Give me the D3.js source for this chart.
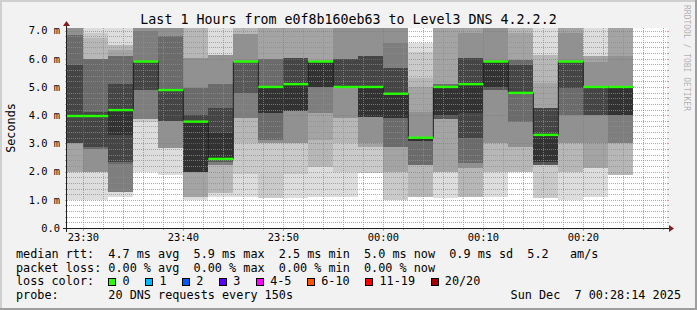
<!DOCTYPE html>
<html>
<head>
<meta charset="utf-8">
<script src="https://cdn.jsdelivr.net/npm/d3@7/dist/d3.min.js"></script>
<style>
  html, body { margin: 0; padding: 0; background: #f2f2f2; }
  svg { display: block; }
  text { font-family: "DejaVu Sans Mono", monospace; fill: #000; white-space: pre; }
</style>
</head>
<body>
<svg width="697" height="310"></svg>
<script>
// end of each 150s step (rrd timestamps)
const stepEnds = ["23:30:00", "23:32:30", "23:35:00", "23:37:30", "23:40:00", "23:42:30",
  "23:45:00", "23:47:30", "23:50:00", "23:52:30", "23:55:00", "23:57:30", "00:00:00",
  "00:02:30", "00:05:00", "00:07:30", "00:10:00", "00:12:30", "00:15:00", "00:17:30",
  "00:20:00", "00:22:30", "00:25:00"];

// median rtt per step, ms
const medians = [3.97, 3.97, 4.18, 5.9, 4.89, 3.77, 2.45, 5.9, 5.0, 5.1, 5.9, 5.0,
  5.0, 4.76, 3.2, 5.0, 5.1, 5.9, 4.79, 3.3, 5.9, 5.0, 5.0];

// 20 sorted pings per step, ms (smoke)
const pings = [
  [1.0, 2.0, 2.0, 2.0, 3.0, 3.0, 3.0, 3.0, 3.0, 3.97, 3.97, 5.78, 5.78, 6.84, 6.84, 7.2, 7.2, 7.2, 7.2, 7.2],
  [1.0, 2.0, 2.0, 2.0, 2.0, 2.8, 2.8, 2.88, 2.88, 3.97, 3.97, 4.1, 4.1, 6.0, 6.0, 6.0, 6.0, 6.72, 6.9, 7.2],
  [1.11, 1.29, 1.29, 1.29, 1.29, 1.29, 2.26, 2.35, 2.35, 3.3, 4.18, 5.09, 5.09, 6.08, 6.08, 6.08, 6.3, 6.49, 6.49, 7.2],
  [2.0, 3.77, 3.85, 3.85, 3.85, 3.85, 4.89, 4.89, 4.89, 5.9, 5.9, 5.9, 5.9, 5.9, 6.98, 7.2, 7.2, 7.2, 7.2, 7.2],
  [1.88, 2.82, 2.82, 2.82, 2.82, 3.79, 3.79, 3.79, 3.79, 4.89, 4.89, 4.89, 4.89, 6.81, 6.81, 7.2, 7.2, 7.2, 7.2, 7.2],
  [0.99, 1.11, 1.11, 1.11, 2.0, 2.0, 2.0, 2.0, 2.0, 2.0, 3.77, 4.0, 4.0, 4.95, 4.95, 6.02, 6.02, 7.2, 7.2, 7.2],
  [1.11, 1.23, 1.23, 2.23, 2.23, 2.23, 2.35, 2.35, 2.45, 2.45, 3.36, 4.24, 4.24, 5.09, 5.09, 6.13, 6.13, 6.13, 6.13, 7.2],
  [1.11, 1.93, 3.0, 3.89, 3.89, 3.89, 4.77, 4.77, 5.9, 5.9, 5.9, 5.9, 5.9, 5.9, 5.9, 6.88, 6.88, 7.2, 7.2, 7.2],
  [1.05, 1.05, 3.0, 3.0, 3.0, 3.12, 3.12, 4.07, 4.07, 4.07, 5.0, 5.0, 5.0, 5.99, 5.99, 5.99, 7.2, 7.2, 7.2, 7.2],
  [1.05, 1.93, 3.0, 3.0, 3.0, 4.13, 4.13, 4.13, 4.13, 4.13, 5.1, 6.02, 6.02, 6.02, 6.02, 6.02, 7.2, 7.2, 7.2, 7.2],
  [1.11, 2.17, 2.17, 3.12, 4.07, 4.07, 5.01, 5.01, 5.01, 5.01, 5.9, 5.9, 5.9, 5.9, 5.9, 5.9, 7.2, 7.2, 7.2, 7.2],
  [1.1, 2.0, 3.0, 3.89, 3.89, 4.95, 4.95, 4.95, 4.95, 5.0, 5.0, 6.0, 6.0, 6.0, 6.0, 7.2, 7.2, 7.2, 7.2, 7.2],
  [1.94, 1.94, 2.88, 2.88, 3.0, 3.95, 3.95, 3.95, 3.95, 3.95, 5.0, 6.09, 6.09, 6.09, 6.09, 7.2, 7.2, 7.2, 7.2, 7.2],
  [1.0, 1.0, 2.0, 2.0, 2.88, 2.88, 2.88, 3.89, 3.89, 3.89, 4.76, 5.66, 5.66, 5.66, 6.55, 7.2, 7.2, 7.2, 7.2, 7.2],
  [1.11, 1.11, 1.11, 2.23, 2.23, 2.23, 2.23, 3.09, 3.09, 3.09, 3.2, 3.2, 3.2, 3.2, 3.2, 4.1, 5.01, 5.31, 6.25, 6.55],
  [1.05, 2.0, 2.0, 2.0, 3.85, 3.85, 3.85, 3.85, 4.0, 4.0, 5.0, 5.0, 5.0, 5.1, 5.1, 5.1, 7.2, 7.2, 7.2, 7.2],
  [1.11, 1.11, 1.11, 2.11, 2.11, 2.29, 2.29, 3.18, 3.18, 4.07, 5.1, 6.02, 6.02, 6.02, 6.02, 6.9, 7.2, 7.2, 7.2, 7.2],
  [1.11, 2.0, 2.0, 3.0, 3.0, 4.89, 4.89, 4.89, 5.01, 5.01, 5.9, 5.9, 5.9, 5.9, 5.9, 7.2, 7.2, 7.2, 7.2, 7.2],
  [2.0, 2.0, 2.0, 2.88, 2.88, 3.77, 3.77, 4.79, 4.79, 4.79, 4.79, 5.78, 5.78, 5.96, 5.96, 5.96, 6.9, 7.2, 7.2, 7.2],
  [1.05, 1.05, 2.23, 2.23, 2.23, 2.23, 2.23, 2.23, 2.35, 2.35, 3.3, 4.24, 4.24, 4.24, 4.24, 4.24, 5.13, 6.13, 6.13, 7.2],
  [1.0, 2.0, 2.0, 3.0, 3.0, 4.0, 4.0, 4.95, 4.95, 5.9, 5.9, 5.9, 5.9, 5.9, 5.9, 6.9, 7.2, 7.2, 7.2, 7.2],
  [1.11, 2.11, 2.11, 2.11, 3.0, 4.0, 4.0, 4.0, 4.0, 5.0, 5.0, 5.0, 5.0, 5.0, 5.0, 5.9, 6.08, 6.08, 6.08, 7.2],
  [1.88, 1.88, 1.88, 3.0, 3.0, 3.0, 4.0, 4.0, 4.0, 4.0, 5.0, 5.0, 5.0, 5.0, 5.0, 6.08, 7.2, 7.2, 7.2, 7.2]
];

const title = "Last 1 Hours from e0f8b160eb63 to Level3 DNS 4.2.2.2";
const rttStats = ["4.7 ms avg", "5.9 ms max", "2.5 ms min", "5.0 ms now", "0.9 ms sd", "5.2   am/s"];
const lossStats = ["0.00 % avg", "0.00 % max", "0.00 % min", "0.00 % now"];
const lossLabels = ["0", "1", "2", "3", "4-5", "6-10", "11-19", "20/20"];
const lossColors = ["#26ff00", "#00b8ff", "#0059ff", "#5e00ff", "#ff00ff", "#ff5500", "#ff0000", "#a00000"];
const probeText = "20 DNS requests every 150s";
const stampText = "Sun Dec  7 00:28:14 2025";

const parseT = s => {
  const [h, m, sec] = s.split(':').map(Number);
  return new Date(2025, 11, h >= 12 ? 6 : 7, h, m, sec);
};

const svg = d3.select('svg');
const W = 697, H = 310;
const pL = 67, pR = 667, pT = 28, pB = 228;

const x = d3.scaleTime().domain([parseT("23:28:22"), parseT("00:28:22")]).range([pL, pR]);
const y = d3.scaleLinear().domain([0, 7.09]).range([pB, pT]);

// background + 3d frame
svg.append('rect').attr('width', W).attr('height', H).attr('fill', '#f2f2f2');
svg.append('rect').attr('x', 0).attr('y', 0).attr('width', W).attr('height', 2).attr('fill', '#cfcfcf');
svg.append('rect').attr('x', 0).attr('y', 0).attr('width', 2).attr('height', H).attr('fill', '#cfcfcf');
svg.append('rect').attr('x', 0).attr('y', H - 2).attr('width', W).attr('height', 2).attr('fill', '#9e9e9e');
svg.append('rect').attr('x', W - 2).attr('y', 0).attr('width', 2).attr('height', H).attr('fill', '#9e9e9e');

svg.append('defs').append('clipPath').attr('id', 'plot')
  .append('rect').attr('x', pL).attr('y', pT).attr('width', pR - pL).attr('height', pB - pT);

svg.append('rect').attr('x', pL).attr('y', pT).attr('width', pR - pL).attr('height', pB - pT)
  .attr('fill', '#ffffff');

const cols = stepEnds.map((s, i) => {
  const end = parseT(s);
  return { start: new Date(+end - 150000), end: end, median: medians[i], pings: pings[i] };
});

// smoke: nested bands, outer = lightest
const g = svg.append('g').attr('clip-path', 'url(#plot)').attr('shape-rendering', 'crispEdges');
cols.forEach(c => {
  for (let i = 0; i < 10; i++) {
    const lo = c.pings[i], hi = c.pings[19 - i];
    if (hi <= lo) continue;
    const v = Math.floor(190 / 10 * (10 - (i + 1))) + 50;
    g.append('rect')
      .attr('x', x(c.start)).attr('width', x(c.end) - x(c.start))
      .attr('y', y(hi)).attr('height', y(lo) - y(hi))
      .attr('fill', d3.rgb(v, v, v));
  }
});

// grid
const grid = svg.append('g').attr('shape-rendering', 'crispEdges');
const minorCol = 'rgba(143,143,143,0.75)', majorCol = 'rgba(222,79,79,0.6)';
const yMajor = y.ticks(7), yMinor = y.ticks(35).filter(v => Math.abs(v - Math.round(v)) > 1e-6);
yMinor.forEach(v => {
  const yy = Math.round(y(v)) + 0.5;
  grid.append('line').attr('x1', pL).attr('x2', pR).attr('y1', yy).attr('y2', yy)
    .attr('stroke', minorCol).attr('stroke-dasharray', '1,1');
  grid.append('line').attr('x1', pL - 2).attr('x2', pL).attr('y1', yy).attr('y2', yy).attr('stroke', minorCol);
  grid.append('line').attr('x1', pR).attr('x2', pR + 2).attr('y1', yy).attr('y2', yy).attr('stroke', minorCol);
});
yMajor.forEach(v => {
  const yy = Math.round(y(v)) + 0.5;
  grid.append('line').attr('x1', pL).attr('x2', pR).attr('y1', yy).attr('y2', yy)
    .attr('stroke', majorCol).attr('stroke-dasharray', '1,1');
  grid.append('line').attr('x1', pL - 2).attr('x2', pL).attr('y1', yy).attr('y2', yy).attr('stroke', majorCol);
  grid.append('line').attr('x1', pR).attr('x2', pR + 2).attr('y1', yy).attr('y2', yy).attr('stroke', majorCol);
});
const xMajor = d3.timeMinute.every(10).range(x.domain()[0], x.domain()[1]);
const xMinor = d3.timeMinute.every(2).range(x.domain()[0], x.domain()[1]).filter(t => t.getMinutes() % 10 !== 0);
xMinor.forEach(t => {
  const xx = Math.round(x(t)) + 0.5;
  grid.append('line').attr('x1', xx).attr('x2', xx).attr('y1', pT).attr('y2', pB)
    .attr('stroke', minorCol).attr('stroke-dasharray', '1,1');
  grid.append('line').attr('x1', xx).attr('x2', xx).attr('y1', pB).attr('y2', pB + 2).attr('stroke', minorCol);
});
xMajor.forEach(t => {
  const xx = Math.round(x(t)) + 0.5;
  grid.append('line').attr('x1', xx).attr('x2', xx).attr('y1', pT).attr('y2', pB)
    .attr('stroke', majorCol).attr('stroke-dasharray', '1,1');
  grid.append('line').attr('x1', xx).attr('x2', xx).attr('y1', pB).attr('y2', pB + 3).attr('stroke', majorCol);
});

// median: dark step line + green loss bars
const pts = cols.map(c => [x(c.start), y(c.median)]);
pts.push([x(cols[cols.length - 1].end), y(cols[cols.length - 1].median)]);
const lines = svg.append('g').attr('clip-path', 'url(#plot)');
lines.append('path')
  .attr('d', d3.line().curve(d3.curveStepAfter)(pts))
  .attr('fill', 'none').attr('stroke', '#202020').attr('stroke-width', 1);
lines.selectAll('rect.loss').data(cols).enter().append('rect')
  .attr('class', 'loss')
  .attr('x', d => x(d.start)).attr('width', d => x(d.end) - x(d.start))
  .attr('y', d => y(d.median) - 1.2).attr('height', 2.4)
  .attr('fill', lossColors[0]);

// axes with arrows
svg.append('line').attr('x1', pL - 4).attr('x2', pR + 4).attr('y1', pB + 0.5).attr('y2', pB + 0.5)
  .attr('stroke', '#1f1f1f');
svg.append('line').attr('x1', pL - 0.5).attr('x2', pL - 0.5).attr('y1', pB + 4).attr('y2', pT - 4)
  .attr('stroke', '#1f1f1f');
svg.append('path').attr('d', `M${pR + 2},${pB - 3}L${pR + 2},${pB + 4}L${pR + 7},${pB + 0.5}Z`)
  .attr('fill', '#801f1f');
svg.append('path').attr('d', `M${pL - 4},${pT - 2}L${pL + 3},${pT - 2}L${pL - 0.5},${pT - 7}Z`)
  .attr('fill', '#801f1f');

// tick labels
svg.append('g').selectAll('text').data(yMajor).enter().append('text')
  .attr('x', 60).attr('y', d => y(d) + 3.8)
  .attr('text-anchor', 'end').attr('font-size', '10.4px')
  .text(d => d === 0 ? '0.0' : d.toFixed(1) + ' m');
svg.append('g').selectAll('text').data(xMajor).enter().append('text')
  .attr('x', d => x(d)).attr('y', 241)
  .attr('text-anchor', 'middle').attr('font-size', '10.4px')
  .text(d3.timeFormat('%H:%M'));

svg.append('text').attr('transform', `translate(15,${(pT + pB) / 2}) rotate(-90)`)
  .attr('text-anchor', 'middle').attr('font-size', '11.8px').text('Seconds');

svg.append('text').attr('x', W / 2).attr('y', 24).attr('text-anchor', 'middle')
  .attr('font-size', '13.3px').text(title);

svg.append('text').attr('transform', 'translate(684,5) rotate(90)')
  .attr('font-size', '8px').style('fill', 'rgba(0,0,0,0.3)').text('RRDTOOL / TOBI OETIKER');

// legend
const lx = 16, adv = 11.8 * 0.602, fs = '11.8px';
const rows = [258.3, 271.8, 285.3, 298.8];
const leg = svg.append('g').attr('font-size', fs);
leg.append('text').attr('x', lx).attr('y', rows[0]).attr('xml:space', 'preserve')
  .text('median rtt:'.padEnd(13) + rttStats.join('  '));
leg.append('text').attr('x', lx).attr('y', rows[1]).attr('xml:space', 'preserve')
  .text('packet loss:'.padEnd(13) + lossStats.join('  '));
leg.append('text').attr('x', lx).attr('y', rows[2]).text('loss color:');
let bx = lx + 13 * adv;
lossLabels.forEach((lab, i) => {
  leg.append('rect').attr('x', Math.round(bx) + 0.5).attr('y', 278.5).attr('width', 7).attr('height', 7)
    .attr('fill', lossColors[i]).attr('stroke', '#000');
  leg.append('text').attr('x', bx + 14.2).attr('y', rows[2]).text(lab);
  bx = bx + 14.2 + lab.length * adv + 15.6;
});
leg.append('text').attr('x', lx).attr('y', rows[3]).attr('xml:space', 'preserve')
  .text('probe:'.padEnd(13) + probeText);
leg.append('text').attr('x', 681).attr('y', rows[3]).attr('text-anchor', 'end')
  .attr('xml:space', 'preserve').text(stampText);
</script>
</body>
</html>
